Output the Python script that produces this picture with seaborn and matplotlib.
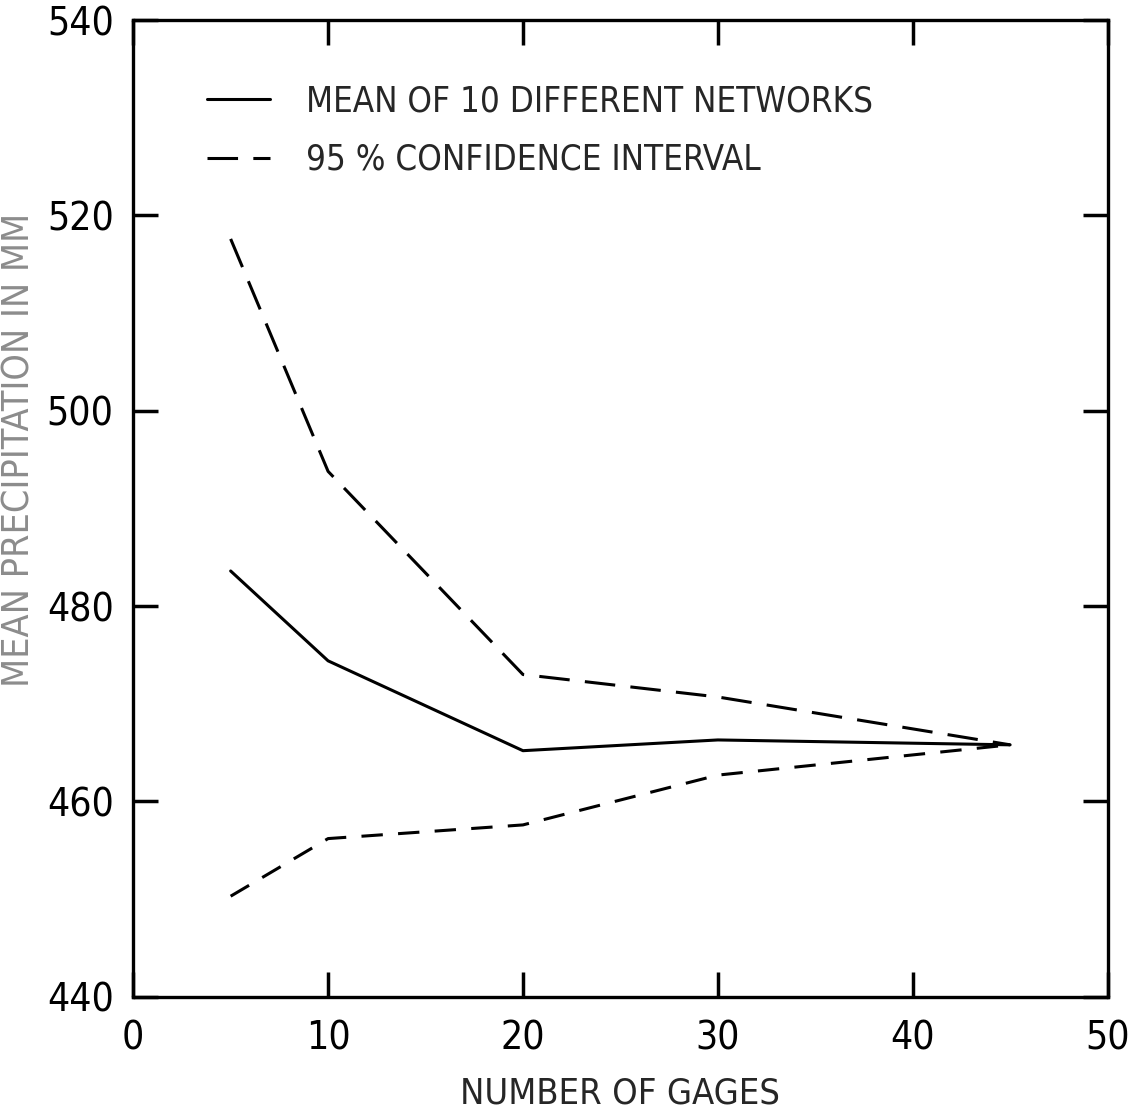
import numpy as np
import pandas as pd
import seaborn as sns
import matplotlib.pyplot as plt

# values
gages = [5, 10, 20, 30, 45]
mean_mm = [483.6, 474.4, 465.2, 466.3, 465.8]
upper_ci = [517.6, 493.8, 473.0, 470.7, 465.8]
lower_ci = [450.3, 456.2, 457.6, 462.7, 465.8]

x_ticks = [0, 10, 20, 30, 40, 50]
y_ticks = [440, 460, 480, 500, 520, 540]

sns.set_theme(style='ticks')
plt.rcParams['font.family'] = ['DejaVu Sans']
plt.rcParams['font.stretch'] = 'condensed'
plt.rcParams['font.weight'] = 'light'

fig = plt.figure(figsize=(11.29, 11.2), dpi=100)
ax = fig.add_axes([0.118, 0.11, 0.863, 0.872])

df = pd.DataFrame({'gages': gages, 'mean': mean_mm, 'upper': upper_ci, 'lower': lower_ci})

sns.lineplot(data=df, x='gages', y='mean', ax=ax, color='black', lw=2.2,
             label='MEAN OF 10 DIFFERENT NETWORKS')
sns.lineplot(data=df, x='gages', y='upper', ax=ax, color='black', lw=2.2,
             linestyle=(0, (10, 5)), label='95 % CONFIDENCE INTERVAL')
sns.lineplot(data=df, x='gages', y='lower', ax=ax, color='black', lw=2.2,
             linestyle=(0, (7, 5)))

ax.set_xlim(0, 50)
ax.set_ylim(440, 540)
ax.set_xticks(x_ticks)
ax.set_yticks(y_ticks)
ax.tick_params(direction='in', length=18, width=2.5, labelsize=28, pad=14,
               top=True, right=True, colors='black')
ax.tick_params(axis='x', pad=16)
for s in ax.spines.values():
    s.set_visible(True)
    s.set_linewidth(2.4)
    s.set_color('black')

ax.set_xlabel('NUMBER OF GAGES', fontsize=26, labelpad=14)
ax.set_ylabel('MEAN PRECIPITATION IN MM', fontsize=27, color='#8c8c8c', labelpad=14)
ax.yaxis.set_label_coords(-0.098, 0.56)

leg = ax.legend(loc='upper left', bbox_to_anchor=(0.044, 0.966), frameon=False,
                fontsize=25, handlelength=1.8, handletextpad=1.05, labelspacing=0.7)

fig.savefig('out.png', dpi=100)
